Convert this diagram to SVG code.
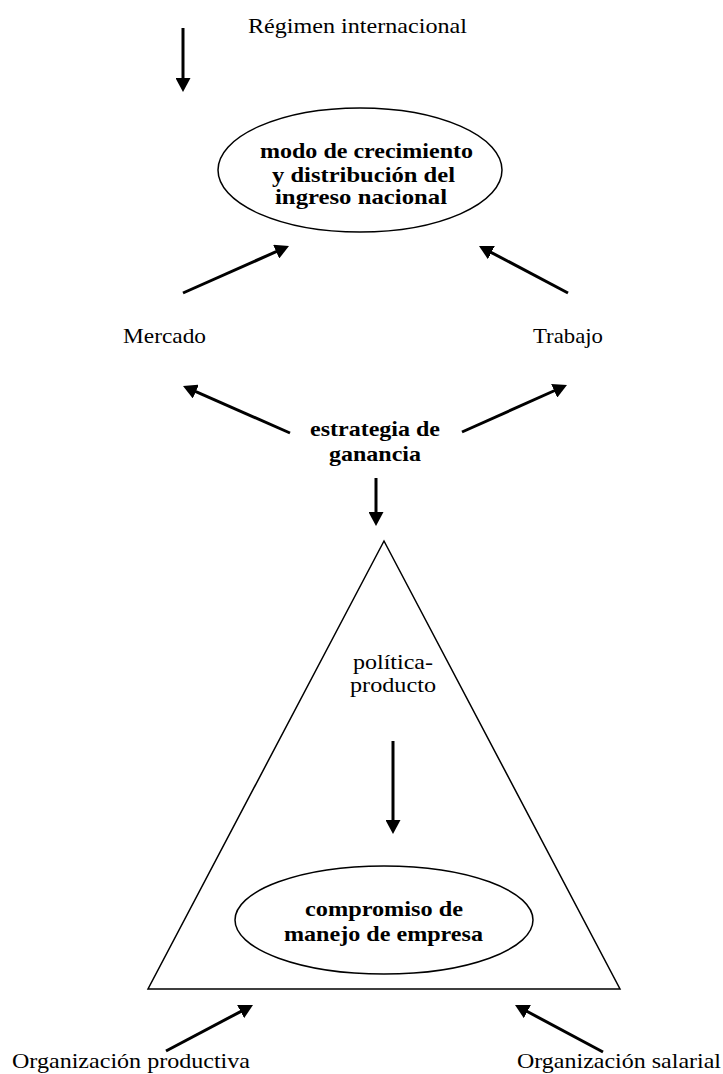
<svg xmlns="http://www.w3.org/2000/svg" width="723" height="1074" viewBox="0 0 723 1074">
<style>
.t{font-family:"Liberation Serif","Times New Roman",serif;font-size:21px;fill:#000}
.b{font-weight:bold}
.shape{fill:none;stroke:#000;stroke-width:1.5}
.arr{fill:none;stroke:#000;stroke-width:3;marker-end:url(#ah)}
</style>
<defs>
<marker id="ah" markerUnits="userSpaceOnUse" markerWidth="14" markerHeight="15" refX="8" refY="7.5" orient="auto" viewBox="0 0 14 15">
<path d="M0,0 L14,7.5 L0,15 z" fill="#000"/>
</marker>
</defs>
<rect width="723" height="1074" fill="#fff"/>
<g id="regimen"><text class="t" x="248" y="33" textLength="219" lengthAdjust="spacingAndGlyphs">Régimen internacional</text></g>
<g id="modo">
<ellipse class="shape" cx="360" cy="170" rx="142" ry="62"/>
<text class="t b" x="260" y="158" textLength="213" lengthAdjust="spacingAndGlyphs">modo de crecimiento</text>
<text class="t b" x="272" y="182" textLength="183" lengthAdjust="spacingAndGlyphs">y distribución del</text>
<text class="t b" x="275" y="204" textLength="172" lengthAdjust="spacingAndGlyphs">ingreso nacional</text>
</g>
<g id="mercado"><text class="t" x="123" y="343" textLength="83" lengthAdjust="spacingAndGlyphs">Mercado</text></g>
<g id="trabajo"><text class="t" x="533" y="343" textLength="70" lengthAdjust="spacingAndGlyphs">Trabajo</text></g>
<g id="estrategia">
<text class="t b" x="310" y="436" textLength="130" lengthAdjust="spacingAndGlyphs">estrategia de</text>
<text class="t b" x="329" y="461" textLength="92" lengthAdjust="spacingAndGlyphs">ganancia</text>
</g>
<g id="triangulo">
<polygon class="shape" points="384,541 620,989 148,989"/>
</g>
<g id="politica">
<text class="t" x="353" y="669" textLength="80" lengthAdjust="spacingAndGlyphs">política-</text>
<text class="t" x="350" y="692" textLength="86" lengthAdjust="spacingAndGlyphs">producto</text>
</g>
<g id="compromiso">
<ellipse class="shape" cx="384" cy="920" rx="149" ry="54"/>
<text class="t b" x="305" y="916" textLength="158" lengthAdjust="spacingAndGlyphs">compromiso de</text>
<text class="t b" x="284" y="941" textLength="199" lengthAdjust="spacingAndGlyphs">manejo de empresa</text>
</g>
<g id="orgprod"><text class="t" x="12" y="1068" textLength="238" lengthAdjust="spacingAndGlyphs">Organización productiva</text></g>
<g id="orgsal"><text class="t" x="517" y="1068" textLength="204" lengthAdjust="spacingAndGlyphs">Organización salarial</text></g>
<g id="connectors">
<line class="arr" x1="183" y1="28" x2="183" y2="86"/>
<line class="arr" x1="183" y1="293" x2="283.5" y2="248.4"/>
<line class="arr" x1="568" y1="293" x2="484.3" y2="248.8"/>
<line class="arr" x1="290" y1="433" x2="188.5" y2="388.4"/>
<line class="arr" x1="462" y1="432" x2="561.5" y2="387.5"/>
<line class="arr" x1="376" y1="478" x2="376" y2="520"/>
<line class="arr" x1="393" y1="741" x2="393" y2="828"/>
<line class="arr" x1="166" y1="1051" x2="247.7" y2="1007.8"/>
<line class="arr" x1="603" y1="1052" x2="520.3" y2="1007.8"/>
</g>
</svg>
